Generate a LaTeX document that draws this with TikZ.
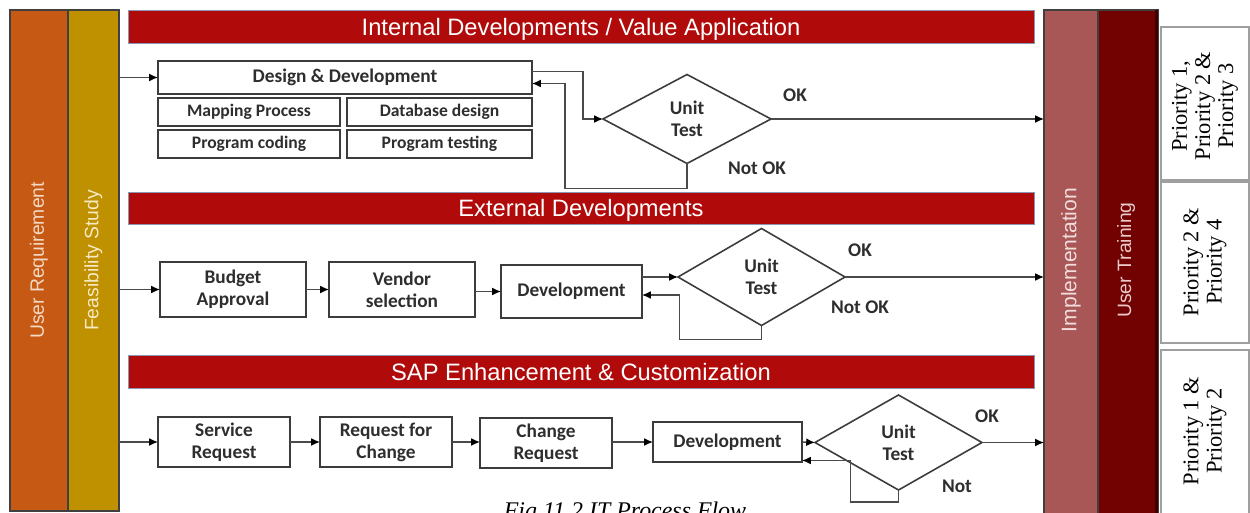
\documentclass[tikz,border=0pt]{standalone}
\usepackage{fontspec}
\setmainfont{Liberation Serif}
\newfontfamily\arialf{Liberation Sans}
\newfontfamily\calib{Carlito}
\usetikzlibrary{shapes.geometric,arrows.meta}

\definecolor{urorange}{HTML}{C65A14}
\definecolor{fsgold}{HTML}{BF9000}
\definecolor{hdrred}{HTML}{B00A0A}
\definecolor{hdrline}{HTML}{8A96B4}
\definecolor{implcol}{HTML}{A85656}
\definecolor{utcol}{HTML}{720202}
\definecolor{utdark}{HTML}{3F0000}
\definecolor{urtext}{HTML}{F2D9C4}
\definecolor{fstext}{HTML}{F5EAC4}
\definecolor{impltext}{HTML}{F2DCDC}
\definecolor{uttext}{HTML}{EBC9C9}
\definecolor{boxline}{HTML}{3C3C3C}
\definecolor{lineg}{HTML}{4A4A4A}
\definecolor{txtdark}{HTML}{2E2E2E}

\begin{document}
\begin{tikzpicture}[x=0.02cm,y=-0.02cm,
  sz/.style 2 args={minimum width=#1*0.02cm, minimum height=#2*0.02cm, inner sep=0pt, outer sep=0pt},
  bar/.style={draw=black!75, line width=0.6pt},
  barlabel/.style={rotate=90, font=\arialf\fontsize{11}{13}\selectfont},
  hdr/.style={fill=hdrred, draw=hdrline, line width=0.5pt, text=white, text depth=0pt,
              font=\arialf\fontsize{13.5}{15}\selectfont},
  stepbox/.style={draw=boxline, line width=0.9pt, fill=white, text=txtdark, align=center,
                  font=\calib\bfseries\fontsize{11}{12.5}\selectfont},
  subbox/.style={stepbox, font=\calib\bfseries\fontsize{10}{12}\selectfont},
  test/.style={diamond, draw=boxline, line width=0.9pt, fill=white, text=txtdark, align=center,
               inner sep=0pt, outer sep=0pt, font=\calib\bfseries\fontsize{11}{12.5}\selectfont},
  flow/.style={draw=lineg, line width=0.85pt, -{Latex[length=5pt,width=4.5pt,color=black]}},
  lbl/.style={text=txtdark, inner sep=0pt, font=\calib\bfseries\fontsize{11}{13}\selectfont},
  prio/.style={draw=gray!75, line width=0.6pt, fill=white},
  priotext/.style={rotate=90, align=center, inner sep=0pt, font=\fontsize{12.8}{13.2}\selectfont}
]
\useasboundingbox (0,0) rectangle (1250,513);
\fill[white] (0,0) rectangle (1250,513);

% phase bars on the left
\node[bar, fill=urorange, sz={58}{501}] (ur) at (39,260.5) {};
\node[barlabel, text=urtext] (urlabel) at (ur) {User Requirement};
\node[bar, fill=fsgold, sz={51}{501}] (fs) at (93.5,260.5) {};
\node[barlabel, text=fstext] (fslabel) at (fs) {Feasibility Study};

% phase bars on the right
\node[bar, fill=implcol, sz={54}{510}] (im) at (1071,265) {};
\node[barlabel, text=impltext, font=\arialf\fontsize{12}{14}\selectfont] (imlabel) at (1071,260) {Implementation};
\node[bar, fill=utcol, sz={60}{510}] (ut) at (1128,265) {};
\fill[utdark] (1155,10) rectangle (1158,520);
\node[barlabel, text=uttext, font=\arialf\fontsize{11}{13}\selectfont] (utlabel) at (1126,260) {User Training};

% priorities
\node[prio, sz={88}{153}] (p1) at (1205,103.5) {};
\node[priotext] (p1t) at (1205,106) {Priority 1,\\Priority 2 \&\\Priority 3};
\node[prio, sz={88}{161}] (p2) at (1205,262.5) {};
\node[priotext] (p2t) at (1205,262) {Priority 2 \&\\Priority 4};
\node[prio, sz={88}{168}] (p3) at (1205,434) {};
\node[priotext] (p3t) at (1205,431) {Priority 1 \&\\Priority 2};

% section headers
\node[hdr, sz={906}{33}] (h1) at (581,26.5) {Internal Developments / Value Application};
\node[hdr, sz={906}{32}] (h2) at (581,208) {External Developments};
\node[hdr, sz={906}{33}] (h3) at (581,371.5) {SAP Enhancement \& Customization};

% internal developments
\node[stepbox, sz={374}{33}] (dd) at (345,77.5) {Design \& Development};
\node[subbox, sz={182}{28}] (mp) at (249,112) {Mapping Process};
\node[subbox, sz={185}{28}] (db) at (439.5,112) {Database design};
\node[subbox, sz={182}{28}] (pc) at (249,144) {Program coding};
\node[subbox, sz={185}{28}] (pt) at (439.5,144) {Program testing};
\node[test, sz={168}{89}] (ut1) at (687,119) {Unit\\Test};
\node[lbl] (ok1) at (795,95) {OK};
\node[lbl] (nok1) at (757,168) {Not OK};

\draw[flow] (fs.east |- dd.west) -- (dd.west);
\draw[flow] (dd.east) ++(0,-6) -- ++(51,0) |- (ut1.west);
\draw[flow] (ut1.south) -- ++(0,25) -- ++(-122,0) |- ([yshift=-0.12cm]dd.east);
\draw[flow] (ut1.east) -- (ut1.east -| im.west);

% external developments
\node[stepbox, sz={146}{55}] (ba) at (233,289.5) {Budget\\Approval};
\node[stepbox, sz={146}{55}] (vs) at (402,289.5) {Vendor\\selection};
\node[stepbox, sz={141}{53}] (dv2) at (571.5,291.5) {Development};
\node[test, sz={167}{97}] (ut2) at (761.5,277) {Unit\\Test};
\node[lbl] (ok2) at (860,250) {OK};
\node[lbl] (nok2) at (860,307) {Not OK};

\draw[flow] (fs.east |- ba.west) -- (ba.west);
\draw[flow] (ba.east) -- (ba.east -| vs.west);
\draw[flow] (vs.east |- dv2.west) -- (dv2.west);
\draw[flow] (dv2.east |- ut2.west) -- (ut2.west);
\draw[flow] (ut2.south) -- ++(0,14) -- ++(-82,0) |- ([yshift=-0.07cm]dv2.east);
\draw[flow] (ut2.east) -- (ut2.east -| im.west);

% SAP enhancement & customization
\node[stepbox, sz={132}{50}] (sr) at (224,442) {Service\\Request};
\node[stepbox, sz={132}{50}] (rc) at (386,442) {Request for\\Change};
\node[stepbox, sz={132}{50}] (cr) at (546,443) {Change\\Request};
\node[stepbox, sz={149}{40}] (dv3) at (727.5,442) {Development};
\node[test, sz={167}{95}] (ut3) at (898.5,442.5) {Unit\\Test};
\node[lbl] (ok3) at (987,416) {OK};
\node[lbl] (nok3) at (957,486) {Not};

\draw[flow] (fs.east |- sr.west) -- (sr.west);
\draw[flow] (sr.east) -- (rc.west);
\draw[flow] (rc.east) -- (rc.east -| cr.west);
\draw[flow] (cr.east |- dv3.west) -- (dv3.west);
\draw[flow] (dv3.east) -- (ut3.west);
\draw[flow] (ut3.south) -- ++(0,12) -- ++(-48,0) |- ([yshift=-0.37cm]dv3.east);
\draw[flow] (ut3.east) -- (ut3.east -| im.west);

% caption
\node[anchor=base, inner sep=0pt, font=\itshape\fontsize{13.6}{15}\selectfont] (cap) at (625,518) {Fig 11.2 IT Process Flow};
\end{tikzpicture}
\end{document}
